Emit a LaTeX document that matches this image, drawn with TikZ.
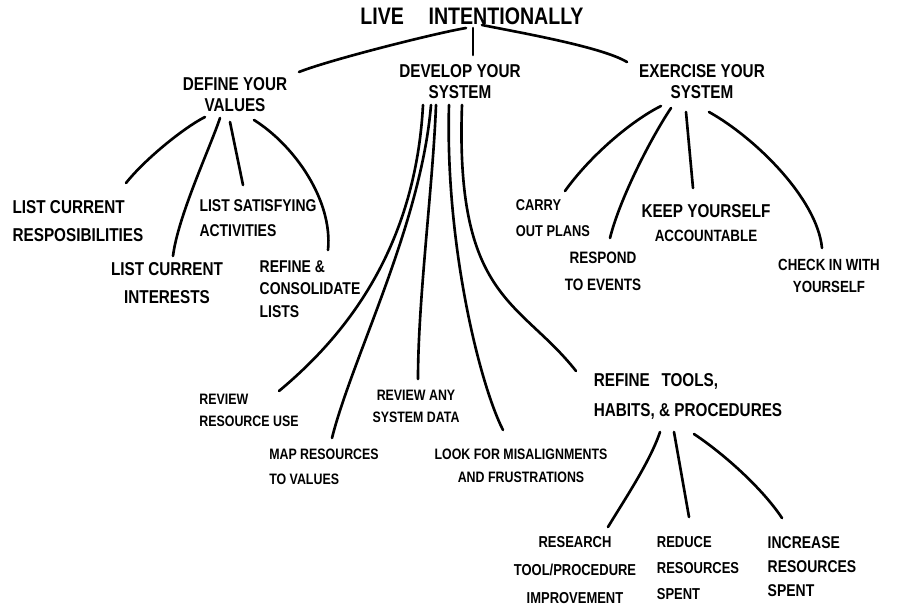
\documentclass[tikz,border=0pt]{standalone}
\usepackage{fontspec}
\setmainfont{Liberation Sans}[FakeStretch=0.82]
\usetikzlibrary{calc}

\begin{document}
\begin{tikzpicture}[
  x=0.02cm, y=-0.02cm,
  lbl/.style={inner sep=0pt, align=center, execute at begin node=\bfseries},
  rootlbl/.style={lbl, font=\fontsize{13.6}{15}\selectfont},
  branchlbl/.style={lbl, font=\fontsize{10.6}{12}\selectfont},
  leafbig/.style={lbl, font=\fontsize{10.6}{16}\selectfont},
  leaf/.style={lbl, font=\fontsize{9.7}{14}\selectfont},
  leafsmall/.style={lbl, font=\fontsize{8.6}{12.5}\selectfont},
  link/.style={line width=1.5pt, line cap=round, line join=round}
]
\fill[white] (0,0) rectangle (900,613);
\useasboundingbox (0,0) rectangle (900,613);
% --- root and main branches ---
\node[rootlbl]   (live) at (472,16)  {LIVE\hspace{0.8em} INTENTIONALLY};
\node[branchlbl] (defv) at (235,95)  {DEFINE YOUR\\VALUES};
\node[branchlbl] (devs) at (460,82)  {DEVELOP YOUR\\SYSTEM};
\node[branchlbl] (exs)  at (702,82)  {EXERCISE YOUR\\SYSTEM};
% --- define your values ---
\node[leafbig, align=left] (lcr) at (78,221)  {LIST CURRENT\\RESPOSIBILITIES};
\node[leaf, align=left]    (lsa) at (258,218) {LIST SATISFYING\\ACTIVITIES};
\node[leafbig]             (lci) at (167,283) {LIST CURRENT\\INTERESTS};
\node[leaf, align=left, font=\fontsize{9.7}{12.8}\selectfont] (rcl) at (310,289) {REFINE \&\\CONSOLIDATE\\LISTS};
% --- develop your system ---
\node[leafsmall, align=left] (rru) at (249,410) {REVIEW\\RESOURCE USE};
\node[leafsmall, align=left, font=\fontsize{8.6}{14}\selectfont] (mrv) at (324,467) {MAP RESOURCES\\TO VALUES};
\node[leafsmall]             (rsd) at (416,406) {REVIEW ANY\\SYSTEM DATA};
\node[leafsmall, font=\fontsize{8.6}{13}\selectfont] (lfm) at (521,466) {LOOK FOR MISALIGNMENTS\\AND FRUSTRATIONS};
\node[leafbig, align=left, font=\fontsize{10.6}{17}\selectfont] (rth) at (688,396) {REFINE\hspace{0.4em} TOOLS,\\HABITS, \& PROCEDURES};
% --- exercise your system ---
\node[leafsmall, align=left, font=\fontsize{8.9}{14.7}\selectfont] (cop) at (553,218) {CARRY\\OUT PLANS};
\node[leaf, font=\fontsize{9.4}{15.3}\selectfont] (rte) at (603,271) {RESPOND\\TO EVENTS};
\node[leaf, font=\fontsize{9.3}{13.6}\selectfont] (kya) at (706,223) {{\fontsize{10.6}{13.6}\selectfont KEEP YOURSELF}\\ACCOUNTABLE};
\node[leaf, font=\fontsize{9.2}{12.5}\selectfont] (ciy) at (829,276) {CHECK IN WITH\\YOURSELF};
% --- refine tools, habits, & procedures ---
\node[leaf, font=\fontsize{9}{16}\selectfont] (rtp) at (575,570) {RESEARCH\\TOOL/PROCEDURE\\IMPROVEMENT};
\node[leaf, align=left, font=\fontsize{9}{15}\selectfont] (rrs) at (698,568) {REDUCE\\RESOURCES\\SPENT};
\node[leaf, align=left, font=\fontsize{9.7}{13.6}\selectfont] (irs) at (812,567) {INCREASE\\RESOURCES\\SPENT};
% --- root links ---
\draw[link] ($(defv)+(64,-23)$) .. controls +(30,-12) and +(-30,5) .. ($(live)+(-6,12)$);
\draw[link] ($(live)+(1,12)$) -- ($(devs)+(13,-27)$);
\draw[link] ($(live)+(10,9)$) .. controls +(40,8) and +(-25,-15) .. ($(exs)+(-75,-20)$);
% --- values links ---
\draw[link] ($(defv)+(-30,22)$) .. controls +(-20,10) and +(20,-25) .. ($(lcr)+(48,-38)$);
\draw[link] ($(defv)+(-15,23)$) .. controls +(-10,30) and +(5,-40) .. ($(lci)+(6,-27)$);
\draw[link] ($(defv)+(-5,27)$) -- ($(lsa)+(-15,-33)$);
\draw[link] ($(defv)+(19,25)$) .. controls +(40,25) and +(5,-50) .. ($(rcl)+(18,-39)$);
% --- system links ---
\draw[link] ($(devs)+(-37,23)$) .. controls +(-8,150) and +(60,-50) .. ($(rru)+(30,-19)$);
\draw[link] ($(devs)+(-29,23)$) .. controls +(-10,120) and +(20,-80) .. ($(mrv)+(8,-29)$);
\draw[link] ($(devs)+(-24,23)$) .. controls +(-3,80) and +(0,-80) .. ($(rsd)+(2,-27)$);
\draw[link] ($(devs)+(-11,23)$) .. controls +(-4,140) and +(-23,-45) .. ($(lfm)+(-18,-36)$);
\draw[link] ($(devs)+(2,23)$) .. controls +(-7,195) and +(-56,-71) .. ($(rth)+(-112,-25)$);
% --- exercise links ---
\draw[link] ($(exs)+(-41,24)$) .. controls +(-30,15) and +(25,-35) .. ($(cop)+(12,-27)$);
\draw[link] ($(exs)+(-31,26)$) .. controls +(-20,30) and +(10,-40) .. ($(rte)+(7,-33)$);
\draw[link] ($(exs)+(-16,30)$) -- ($(kya)+(-13,-35)$);
\draw[link] ($(exs)+(7,30)$) .. controls +(45,25) and +(-5,-50) .. ($(ciy)+(-7,-28)$);
% --- tools links ---
\draw[link] ($(rth)+(-28,36)$) .. controls +(-10,30) and +(15,-25) .. ($(rtp)+(33,-43)$);
\draw[link] ($(rth)+(-14,36)$) -- ($(rrs)+(-9,-51)$);
\draw[link] ($(rth)+(6,38)$) .. controls +(30,20) and +(-20,-30) .. ($(irs)+(-30,-49)$);
\end{tikzpicture}
\end{document}
